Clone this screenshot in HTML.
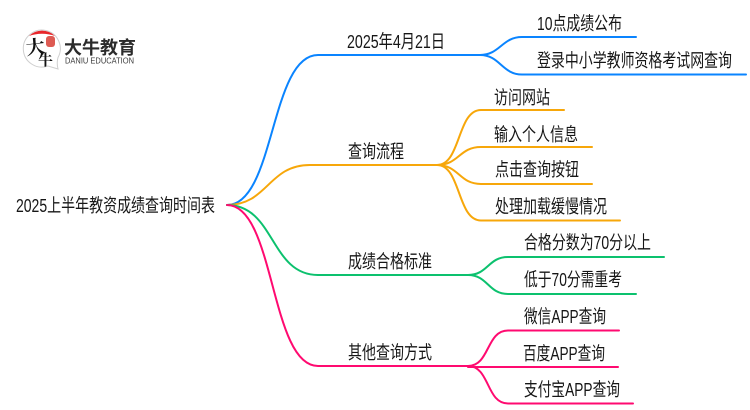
<!DOCTYPE html>
<html><head><meta charset="utf-8"><style>
html,body{margin:0;padding:0;background:#fff;width:750px;height:410px;overflow:hidden}
svg{display:block}
text{font-family:"Liberation Sans","Noto Sans CJK SC",sans-serif;font-size:18.5px;fill:#161616}
path{fill:none;stroke-width:2;stroke-linecap:round}
</style></head><body>
<svg width="750" height="410" viewBox="0 0 750 410" xmlns="http://www.w3.org/2000/svg">
<path stroke="#0a84ff" d="M227 205C275 205 270 55 318 55L480 55"/>
<path stroke="#0a84ff" d="M480 55C500 55 502 37 522 37L636 37"/>
<path stroke="#0a84ff" d="M480 55C500 55 502 74.500 522 74.500L746 74.500"/>
<path stroke="#f7a70a" d="M227 205C268 205 268 165 310 165L437 165"/>
<path stroke="#f7a70a" d="M437 165C461 165 457 110 481 110L564 110"/>
<path stroke="#f7a70a" d="M437 165C459 165 459 147 481 147L592 147"/>
<path stroke="#f7a70a" d="M437 165C459 165 459 184 481 184L592 184"/>
<path stroke="#f7a70a" d="M437 165C461 165 457 220.500 481 220.500L620 220.500"/>
<path stroke="#0cc16e" d="M227 205C275 205 270 275 318 275L468 275"/>
<path stroke="#0cc16e" d="M468 275C488 275 488 257 508 257L664 257"/>
<path stroke="#0cc16e" d="M468 275C488 275 488 294 508 294L636 294"/>
<path stroke="#ff0a70" d="M227 205C275 205 270 366 318 366L468 366"/>
<path stroke="#ff0a70" d="M468 366C490 366 486 330.500 508 330.500L619 330.500"/>
<path stroke="#ff0a70" d="M468 367L618 367"/>
<path stroke="#ff0a70" d="M468 366C490 366 486 403.500 508 403.500L633 403.500"/>
<text x="16" y="212" textLength="199" lengthAdjust="spacingAndGlyphs">2025上半年教资成绩查询时间表</text>
<text x="347" y="48" textLength="98" lengthAdjust="spacingAndGlyphs">2025年4月21日</text>
<text x="537" y="30" textLength="85" lengthAdjust="spacingAndGlyphs">10点成绩公布</text>
<text x="537" y="67" textLength="195" lengthAdjust="spacingAndGlyphs">登录中小学教师资格考试网查询</text>
<text x="348" y="158" textLength="56" lengthAdjust="spacingAndGlyphs">查询流程</text>
<text x="494" y="104" textLength="56" lengthAdjust="spacingAndGlyphs">访问网站</text>
<text x="494" y="141" textLength="84" lengthAdjust="spacingAndGlyphs">输入个人信息</text>
<text x="495" y="176" textLength="84" lengthAdjust="spacingAndGlyphs">点击查询按钮</text>
<text x="495" y="213" textLength="112" lengthAdjust="spacingAndGlyphs">处理加载缓慢情况</text>
<text x="348" y="268" textLength="84" lengthAdjust="spacingAndGlyphs">成绩合格标准</text>
<text x="524" y="249" textLength="127" lengthAdjust="spacingAndGlyphs">合格分数为70分以上</text>
<text x="524" y="286" textLength="98" lengthAdjust="spacingAndGlyphs">低于70分需重考</text>
<text x="348" y="359" textLength="84" lengthAdjust="spacingAndGlyphs">其他查询方式</text>
<text x="524" y="323" textLength="82" lengthAdjust="spacingAndGlyphs">微信APP查询</text>
<text x="523" y="360" textLength="82" lengthAdjust="spacingAndGlyphs">百度APP查询</text>
<text x="524" y="396" textLength="96" lengthAdjust="spacingAndGlyphs">支付宝APP查询</text>
<path d="M48 66A18.500 18.500 0 1 1 58 57.500C57 61 57 65 58 69Z" style="stroke:#cfcfcf;stroke-width:1"/>
<path d="M29 36A18.500 18.500 0 0 1 55 36C47 33 37 33 29 36Z" style="fill:#e8262a;stroke:none"/>
<rect x="46" y="36" width="9" height="11" rx="3" style="fill:#dd5a52"/>
<text x="26" y="54" textLength="19" lengthAdjust="spacingAndGlyphs" style="font-family:'Noto Serif CJK SC','Liberation Serif',serif;font-size:19px;font-weight:bold;fill:#111" transform="rotate(-6 34 48)">大</text>
<text x="38" y="65" textLength="15" lengthAdjust="spacingAndGlyphs" style="font-family:'Noto Serif CJK SC','Liberation Serif',serif;font-size:15px;font-weight:bold;fill:#111">牛</text>
<text x="64" y="54" textLength="72" lengthAdjust="spacingAndGlyphs" style="font-size:18px;font-weight:bold;fill:#2b2b2b">大牛教育</text>
<text x="65" y="63.500" textLength="69" lengthAdjust="spacingAndGlyphs" style="font-size:8px;fill:#3a3a3a">DANIU EDUCATION</text>
</svg>
</body></html>
